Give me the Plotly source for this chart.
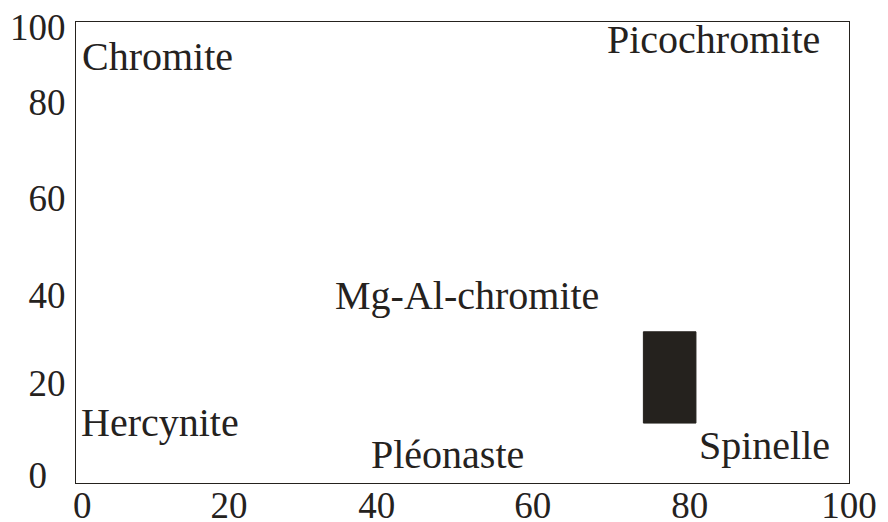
import plotly.graph_objects as go

# Field labels (mineral names) and their positions in data units
labels = ["Chromite", "Picochromite", "Mg-Al-chromite", "Hercynite", "Pléonaste", "Spinelle"]
label_x = [10.5, 82.5, 50.6, 10.9, 48.0, 89.1]
label_y = [92.6, 96.1, 40.6, 13.2, 6.1, 8.2]

# Composition field (filled rectangle)
field_x = [73.4, 80.2]
field_y = [13.0, 32.8]

# Tick labels as drawn in the reference (slightly irregular positions)
x_tick_vals = [0.8, 19.8, 38.9, 59.1, 79.4, 100.0]
x_tick_text = ["0", "20", "40", "60", "80", "100"]
y_tick_vals = [1.7, 21.7, 40.8, 61.8, 82.6, 98.9]
y_tick_text = ["0\u00a0\u00a0", "20", "40", "60", "80", "100"]

INK = "#25221e"
FONT = "Liberation Serif, Times New Roman, serif"

fig = go.Figure()

x0, x1 = field_x
y0, y1 = field_y
fig.add_trace(go.Scatter(
    x=[x0, x1, x1, x0, x0],
    y=[y0, y0, y1, y1, y0],
    mode="lines",
    fill="toself",
    fillcolor=INK,
    line=dict(color=INK, width=1),
    hoverinfo="skip",
    showlegend=False,
))

for t, x, y in zip(labels, label_x, label_y):
    fig.add_annotation(
        x=x, y=y, xref="x", yref="y", text=t, showarrow=False,
        xanchor="center", yanchor="middle",
        font=dict(family=FONT, size=40, color=INK),
    )

fig.update_layout(
    width=888, height=522,
    margin=dict(l=76, r=39, t=22, b=39),
    paper_bgcolor="white", plot_bgcolor="white",
    showlegend=False,
    font=dict(family=FONT, color=INK),
)
fig.update_xaxes(
    range=[0, 100], showgrid=False, zeroline=False, automargin=False,
    showline=True, linecolor=INK, linewidth=1.2, mirror=True,
    tickmode="array", tickvals=x_tick_vals, ticktext=x_tick_text,
    ticks="", ticklabelstandoff=-11, tickfont=dict(family=FONT, size=37, color=INK),
)
fig.update_yaxes(
    range=[0, 100], showgrid=False, zeroline=False, automargin=False,
    showline=True, linecolor=INK, linewidth=1.2, mirror=True,
    tickmode="array", tickvals=y_tick_vals, ticktext=y_tick_text,
    ticks="", ticklabelstandoff=2, tickfont=dict(family=FONT, size=37, color=INK),
)

fig.write_html("out.html")
